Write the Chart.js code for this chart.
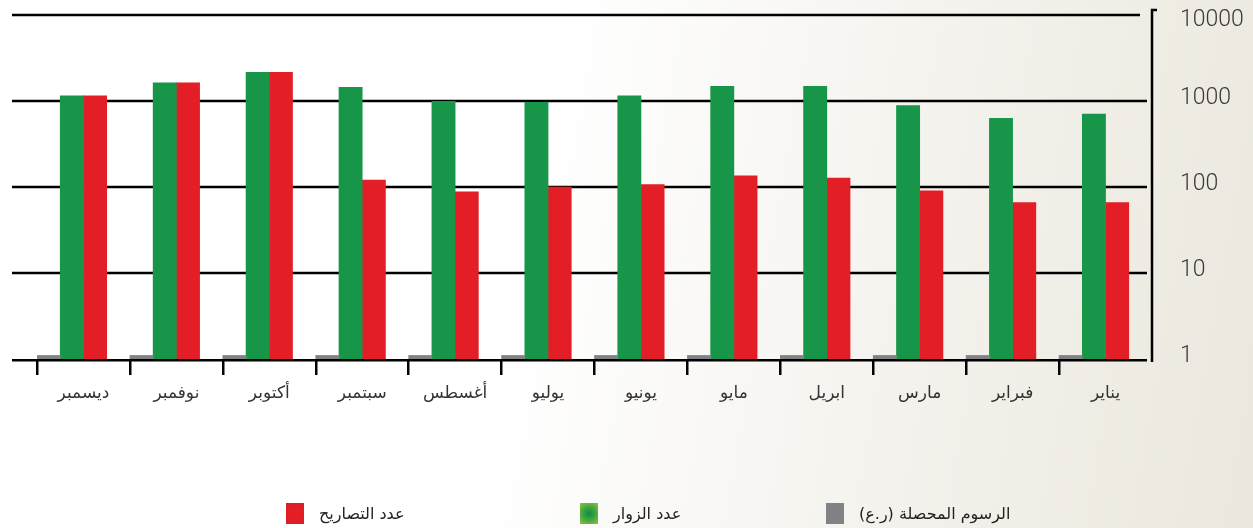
<!DOCTYPE html>
<html>
<head>
<meta charset="utf-8">
<script src="https://cdn.jsdelivr.net/npm/chart.js@4/dist/chart.umd.min.js"></script>
<style>
html,body{margin:0;padding:0;}
body{width:1253px;height:528px;overflow:hidden;position:relative;
  background:linear-gradient(100deg,#ffffff 0%,#ffffff 42%,#f5f3ee 70%,#ebe7dd 100%);
  font-family:'DejaVu Sans',sans-serif;}
#wrap{position:absolute;left:0;top:0;width:1253px;height:528px;}
#legend{position:absolute;left:0;top:0;width:1253px;height:528px;pointer-events:none;}
.item{position:absolute;top:503px;display:flex;align-items:center;height:21px;}
.box{width:18px;height:21px;margin-right:15px;flex:none;}
.txt{font-size:16px;color:#222;direction:rtl;white-space:nowrap;font-family:'DejaVu Sans',sans-serif;}
</style>
</head>
<body>
<div id="wrap"><canvas id="c" width="1253" height="528"></canvas></div>
<div id="legend"></div>
<script>
// ---- data (display order, left to right) ----
const months = ['ديسمبر','نوفمبر','أكتوبر','سبتمبر','أغسطس','يوليو','يونيو','مايو','ابريل','مارس','فبراير','يناير'];
const fees     = [1.1, 1.1, 1.1, 1.1, 1.1, 1.1, 1.1, 1.1, 1.1, 1.1, 1.1, 1.1];
const visitors = [1150, 1630, 2150, 1440, 990, 965, 1150, 1480, 1480, 885, 630, 705];
const permits  = [1150, 1630, 2150, 120, 88, 100, 107, 135, 127, 90, 66, 66];
const yTicks = [1, 10, 100, 1000, 10000];
const seriesNames = ['الرسوم المحصلة (ر.ع)', 'عدد الزوار', 'عدد التصاريح'];

// ---- styles ----
const seriesColors = ['#808285', '#17964a', '#e31e26'];
const legendFills = [
  '#808285',
  'radial-gradient(circle at 50% 50%, #0b8d43 0%, #3ea43f 45%, #8dc63f 100%)',
  'radial-gradient(circle at 50% 50%, #ec1c24 0%, #e01e27 60%, #d31f2c 100%)'
];
const legendLeft = [826, 580, 286];
const topTick = yTicks[yTicks.length - 1];

const gridPlugin = {
  id: 'refGrid',
  beforeDatasetsDraw(chart) {
    const {ctx, chartArea, scales: {y}} = chart;
    ctx.save();
    ctx.strokeStyle = '#000';
    ctx.lineWidth = 2.5;
    const startX = chartArea.left - 25;
    yTicks.forEach((v, i) => {
      let py = y.getPixelForValue(v);
      if (i === 0) py += 1.2;
      const endX = chartArea.right - (v === topTick ? 12 : 5);
      ctx.beginPath();
      ctx.moveTo(startX, py);
      ctx.lineTo(endX, py);
      ctx.stroke();
    });
    const top = y.getPixelForValue(topTick) - 5;
    const bot = y.getPixelForValue(yTicks[0]) + 3;
    ctx.lineWidth = 2.5;
    ctx.beginPath();
    ctx.moveTo(chartArea.right + 5, top);
    ctx.lineTo(chartArea.right, top);
    ctx.lineTo(chartArea.right, bot);
    ctx.stroke();
    ctx.restore();
  }
};

new Chart(document.getElementById('c'), {
  type: 'bar',
  data: {
    labels: months,
    datasets: [
      {label: seriesNames[0], data: fees, backgroundColor: seriesColors[0]},
      {label: seriesNames[1], data: visitors, backgroundColor: seriesColors[1]},
      {label: seriesNames[2], data: permits, backgroundColor: seriesColors[2]},
      {label: '', data: months.map(() => null), backgroundColor: 'rgba(0,0,0,0)'}
    ]
  },
  options: {
    responsive: false,
    animation: false,
    devicePixelRatio: 1,
    layout: {padding: {left: 37, top: 15, right: 0, bottom: 0}},
    datasets: {bar: {categoryPercentage: 1, barPercentage: 1, borderWidth: 0}},
    plugins: {legend: {display: false}, tooltip: {enabled: false}},
    scales: {
      x: {
        offset: true,
        grid: {
          offset: true, drawOnChartArea: false, drawTicks: true, tickLength: 16, lineWidth: 2.5,
          color: c => (c.index === undefined || c.index >= months.length) ? 'rgba(0,0,0,0)' : '#000'
        },
        border: {display: false},
        ticks: {font: {family: 'DejaVu Sans', size: 17}, color: '#333', padding: 8, maxRotation: 0, autoSkip: false},
        afterFit: s => { s.height = 169; s.paddingLeft = 0; s.paddingRight = 0; }
      },
      y: {
        type: 'logarithmic',
        position: 'right',
        min: 1, max: 10000,
        afterBuildTicks: s => { s.ticks = yTicks.map(v => ({value: v})); },
        grid: {display: false},
        border: {display: false},
        ticks: {
          font: c => ({family: 'Roboto', size: 23, weight: '300',
                       lineHeight: (c.tick && c.tick.value === topTick) ? 0.75 : 1.2}),
          color: '#3a3a3a', padding: 20, labelOffset: -3,
          callback: v => v === topTick ? ['', String(v)] : String(v)
        },
        afterFit: s => { s.width = 101; s.paddingTop = 0; s.paddingBottom = 0; }
      }
    }
  },
  plugins: [gridPlugin]
});

// HTML legend built from the series
const legendEl = document.getElementById('legend');
[2, 1, 0].forEach(i => {
  const item = document.createElement('div');
  item.className = 'item';
  item.style.left = legendLeft[i] + 'px';
  const box = document.createElement('div');
  box.className = 'box';
  box.style.background = legendFills[i];
  const txt = document.createElement('span');
  txt.className = 'txt';
  txt.textContent = seriesNames[i];
  item.appendChild(box);
  item.appendChild(txt);
  legendEl.appendChild(item);
});
</script>
</body>
</html>
